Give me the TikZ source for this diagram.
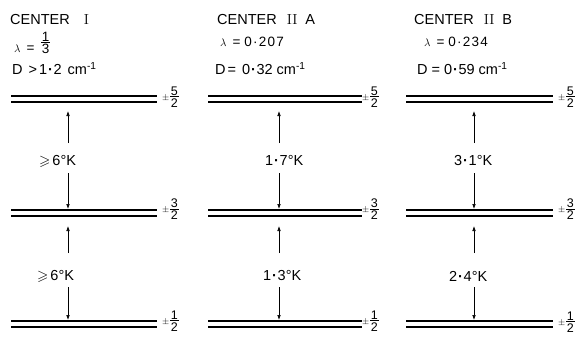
\documentclass[tikz,border=0pt]{standalone}
\usepackage{amsmath,amssymb}
\usepackage{fontspec}
\setsansfont{Liberation Sans}
\newfontfamily\widefont[LetterSpace=9]{Liberation Sans}
\usetikzlibrary{arrows.meta}
\newcommand{\fracx}[2]{$\vcenter{\hbox{\vbox{\offinterlineskip\hbox to 0.65em{\hss#1\hss}\kern1.2pt\hrule height0.6pt\kern1.6pt\hbox to 0.65em{\hss#2\hss}}}}$}
\newcommand{\pmx}{$\scriptstyle\pm$}
\newcommand{\dotx}{\kern0.8pt{\bfseries ·}\kern0.8pt}
\newcommand{\lamx}{{\fontsize{11}{11}\selectfont$\lambda$}}
\begin{document}
\begin{tikzpicture}[x=1pt,y=-1pt,
  lab/.style={font=\sffamily\fontsize{14.5}{16}\selectfont, inner sep=0pt, anchor=base west},
  lam/.style={font=\sffamily\fontsize{13.5}{15}\selectfont, inner sep=0pt, anchor=base west},
  elab/.style={font=\sffamily\fontsize{14.5}{16}\selectfont, inner sep=0pt, anchor=base west},
  fr/.style={font=\sffamily\fontsize{12.5}{14}\selectfont, inner sep=0pt, anchor=west},
  lev/.style={line width=1.2pt},
  arr/.style={line width=0.6pt, -{Latex[length=5pt,width=3.6pt]}},
]
\useasboundingbox (0,0) rectangle (584,337);

% titles
\node[lab] (t1) at (10,25) {CENTER\hspace{14pt}\textrm{I}};
\node[lab] (t2) at (217,25) {CENTER\hspace{10pt}\textrm{II}\hspace{8pt}A};
\node[lab] (t3) at (414,25) {CENTER\hspace{10pt}\textrm{II}\hspace{8pt}B};

% lambda rows
\node[lam] (l1) at (14,53) {\lamx\hspace{6pt}=};
\node[fr, font=\sffamily\fontsize{13.5}{15}\selectfont] (l1f) at (41,43) {\fracx{1}{3}};
\node[lam] (l2) at (220,47) {\lamx\hspace{6pt}=\hspace{4pt}{\widefont 0·207}};
\node[lam] (l3) at (424,47) {\lamx\hspace{6pt}=\hspace{4pt}{\widefont 0·234}};

% D rows
\node[lab] (d1) at (12,75) {D\hspace{6pt}>\hspace{2pt}1\dotx2\hspace{6pt}cm\textsuperscript{-1}};
\node[lab] (d2) at (215,75) {D\hspace{2pt}=\hspace{6pt}0\dotx32\hspace{4pt}cm\textsuperscript{-1}};
\node[lab] (d3) at (417,75) {D\hspace{4pt}=\hspace{4pt}0\dotx59\hspace{4pt}cm\textsuperscript{-1}};

% levels
\foreach \c/\xl/\xr in {1/11/157, 2/208/362, 3/406/553} {
  \foreach \l/\y in {t/96, m/210, b/321} {
    \coordinate (L\c\l-1) at (\xl,\y);
    \coordinate (R\c\l-1) at (\xr,\y);
    \coordinate (L\c\l-2) at (\xl,\y+6);
    \coordinate (R\c\l-2) at (\xr,\y+6);
    \draw[lev] (L\c\l-1) -- (R\c\l-1);
    \draw[lev] (L\c\l-2) -- (R\c\l-2);
  }
}

% spin labels
\node[fr] (f1t) at (162,97) {\pmx\hspace{1pt}\fracx{5}{2}};
\node[fr] (f1m) at (162,209) {\pmx\hspace{1pt}\fracx{3}{2}};
\node[fr] (f1b) at (162,321) {\pmx\hspace{1pt}\fracx{1}{2}};
\node[fr] (f2t) at (362,97) {\pmx\hspace{1pt}\fracx{5}{2}};
\node[fr] (f2m) at (362,209) {\pmx\hspace{1pt}\fracx{3}{2}};
\node[fr] (f2b) at (362,321) {\pmx\hspace{1pt}\fracx{1}{2}};
\node[fr] (f3t) at (558,97) {\pmx\hspace{1pt}\fracx{5}{2}};
\node[fr] (f3m) at (558,209) {\pmx\hspace{1pt}\fracx{3}{2}};
\node[fr] (f3b) at (558,322) {\pmx\hspace{1pt}\fracx{1}{2}};

% energy labels
\node[elab] (e1u) at (39,165) {$\geqslant$\hspace{2pt}6°K};
\node[elab] (e1l) at (37,280) {$\geqslant$\hspace{2pt}6°K};
\node[elab] (e2u) at (265,165) {1\dotx7°K};
\node[elab] (e2l) at (263,280) {1\dotx3°K};
\node[elab] (e3u) at (454,165) {3\dotx1°K};
\node[elab] (e3l) at (449,281) {2\dotx4°K};

% arrows
\foreach \c/\xa in {1/68, 2/279, 3/474} {
  \coordinate (u\c-a) at (\xa,143);
  \coordinate (u\c-b) at (\xa,111);
  \coordinate (d\c-a) at (\xa,173);
  \coordinate (d\c-b) at (\xa,209);
  \coordinate (U\c-a) at (\xa,253);
  \coordinate (U\c-b) at (\xa,226);
  \coordinate (D\c-a) at (\xa,287);
  \coordinate (D\c-b) at (\xa,320);
  \draw[arr] (u\c-a) -- (u\c-b);
  \draw[arr] (d\c-a) -- (d\c-b);
  \draw[arr] (U\c-a) -- (U\c-b);
  \draw[arr] (D\c-a) -- (D\c-b);
}
\end{tikzpicture}
\end{document}
